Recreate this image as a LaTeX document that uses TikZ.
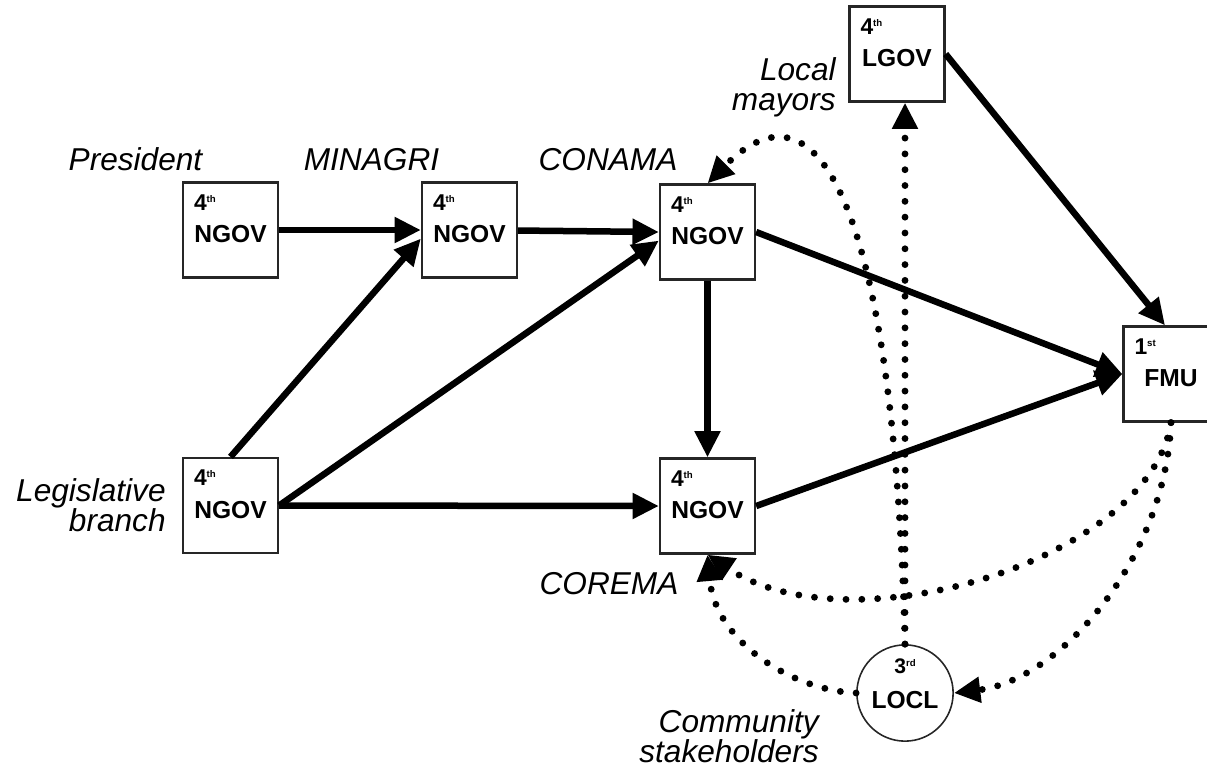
\documentclass[tikz,border=0pt]{standalone}
\usepackage{fontspec}
\setmainfont{Liberation Sans}
\usetikzlibrary{arrows.meta}

\newcommand\rank[3]{\makebox[\hsize][l]{\fontsize{13}{13}\selectfont\bfseries #1\raisebox{4.5pt}{\fontsize{5.5}{6}\selectfont #2}}\\[4.5pt]#3\rule[-13pt]{0pt}{0pt}}

\tikzset{
  agent/.style={draw=black!85, line width=1.3pt, fill=white, minimum width=1.9cm, minimum height=1.9cm,
    inner xsep=0.22cm, text width=1.46cm, align=center, font=\fontsize{14}{14}\selectfont\bfseries},
  locl/.style={circle, draw=black!85, line width=0.9pt, fill=white, minimum size=1.8cm, inner sep=0pt,
    align=center, text depth=11pt, font=\fontsize{14}{14}\selectfont\bfseries},
  lab/.style={font=\fontsize{18}{17}\selectfont\itshape, inner sep=0pt},
  link/.style={line width=3.7pt, -{Triangle[length=15pt,width=14pt]}},
  flow/.style={line width=3.9pt, line cap=round, dash pattern=on 0pt off 9pt, -{Triangle[length=15pt,width=14pt]}}
}

\begin{document}
\begin{tikzpicture}[x=0.02cm,y=-0.02cm]
\useasboundingbox (0,0) rectangle (1207,769);
\node[agent] (pre) at (230.5,230) {\rank{4}{th}{NGOV}};
\node[agent] (min) at (469.5,230) {\rank{4}{th}{NGOV}};
\node[agent] (con) at (707.5,232) {\rank{4}{th}{NGOV}};
\node[agent] (leg) at (230.5,505.5) {\rank{4}{th}{NGOV}};
\node[agent] (cor) at (707.5,506) {\rank{4}{th}{NGOV}};
\node[agent] (lgov) at (897,54) {\rank{4}{th}{LGOV}};
\node[agent] (fmu) at (1171,374) {\rank{1}{st}{FMU}};
\node[locl] (loc) at (905,693) {\makebox[0pt]{\fontsize{12}{12}\selectfont 3\raisebox{4pt}{\fontsize{5.5}{6}\selectfont rd}}\\[6pt]LOCL};

\node[lab, anchor=base] (preL) at (135.5,170) {President};
\node[lab, anchor=base] (minL) at (371.5,170) {MINAGRI};
\node[lab, anchor=base] (conL) at (608,170) {CONAMA};
\node[lab, anchor=base] (corL) at (609,594) {COREMA};
\node[lab, anchor=north east, align=right] (legL) at (166,478) {Legislative\\branch};
\node[lab, anchor=north east, align=right] (mayL) at (836,57) {Local\\mayors};
\node[lab, anchor=north east, align=right] (comL) at (819,709) {Community\\stakeholders};

\draw[link] (pre) -- (min);
\draw[link] (min) -- (con.west);
\draw[link] (leg.north) -- (min.190);
\draw[link] (leg.east) -- (con.190);
\draw[link] (leg.east) -- (cor.west);
\draw[link] (con.south) -- (cor.north);
\draw[link] (con.east) -- (fmu.west);
\draw[link] (cor.east) -- (fmu.west);
\draw[link] (lgov.east) -- (fmu.97);

\draw[flow] (loc.north) -- (loc.north |- lgov.south);
\draw[flow] (loc.north) .. controls (895,250) and (830,60) .. (con.north);
\draw[flow] (fmu.south) .. controls (1150,560) and (850,650) .. (cor.south);
\draw[flow] (fmu.south) .. controls (1165,560) and (1060,680) .. (loc.east);
\draw[flow] (loc.west) .. controls (790,690) and (715,640) .. (cor.south);
\end{tikzpicture}
\end{document}
